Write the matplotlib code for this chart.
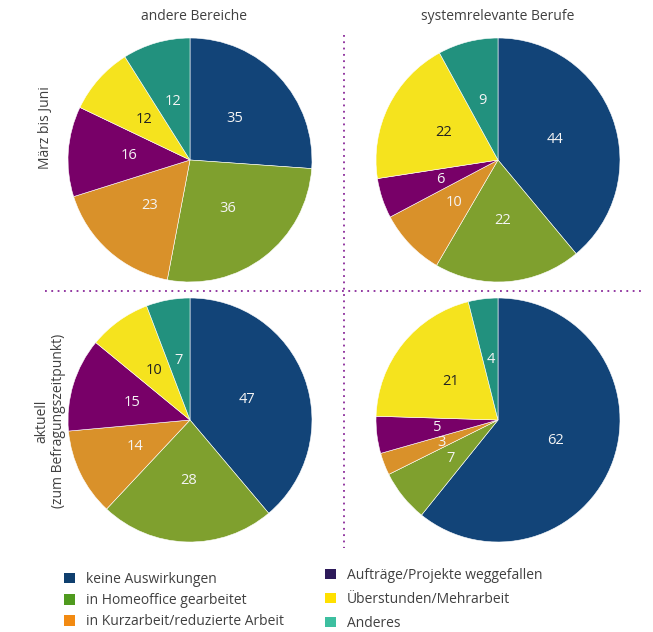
import matplotlib.pyplot as plt
from matplotlib.patches import Patch
from matplotlib.lines import Line2D

plt.rcParams['font.family'] = ['Open Sans', 'DejaVu Sans']

kategorien = ["keine Auswirkungen", "in Homeoffice gearbeitet",
              "in Kurzarbeit/reduzierte Arbeit", "Aufträge/Projekte weggefallen",
              "Überstunden/Mehrarbeit", "Anderes"]
spalten = ["andere Bereiche", "systemrelevante Berufe"]
zeilen = ["März bis Juni", "aktuell\n(zum Befragungszeitpunkt)"]

andere_maerz = [35, 36, 23, 16, 12, 12]
system_maerz = [44, 22, 10, 6, 22, 9]
andere_aktuell = [47, 28, 14, 15, 10, 7]
system_aktuell = [62, 7, 3, 5, 21, 4]

farben_pie = ["#124478", "#7fa02e", "#d9912a", "#780068", "#f5e31e", "#22917e"]
farben_leg = ["#0f3f6e", "#4f9a1e", "#f28a12", "#2d1a5a", "#ffe000", "#3dbfa0"]
textfarben = ["#f4f4f4", "#f4f4f4", "#f4f4f4", "#f4f4f4", "#222222", "#f4f4f4"]

W, H = 653, 632
fig = plt.figure(figsize=(W / 100, H / 100), dpi=100)

r = 122
zentren = [(190, 160), (498, 160), (190, 420), (498, 420)]
daten = [andere_maerz, system_maerz, andere_aktuell, system_aktuell]

for (cx, cy), werte in zip(zentren, daten):
    ax = fig.add_axes([(cx - r) / W, (H - cy - r) / H, 2 * r / W, 2 * r / H])
    wedges, texts = ax.pie(werte, colors=farben_pie, startangle=90, counterclock=False,
                           labels=[str(v) for v in werte], labeldistance=0.5,
                           wedgeprops=dict(edgecolor="white", linewidth=0.4),
                           textprops=dict(fontsize=10.5, ha="center", va="center"))
    for t, c in zip(texts, textfarben):
        t.set_color(c)
        t.set_horizontalalignment("center")
    ax.set_xlim(-1.0, 1.0)
    ax.set_ylim(-1.0, 1.0)
    ax.set_aspect("equal")
    ax.axis("off")

# Spaltentitel
fig.text(194 / W, 1 - 17 / H, spalten[0], ha="center", va="center", fontsize=10, color="#404040")
fig.text(498 / W, 1 - 17 / H, spalten[1], ha="center", va="center", fontsize=10, color="#404040")
# Zeilentitel
fig.text(45 / W, 1 - 128 / H, zeilen[0], ha="center", va="center", rotation=90, fontsize=10, color="#404040")
fig.text(50 / W, 1 - 421 / H, zeilen[1], ha="center", va="center", rotation=90, fontsize=10,
         color="#404040", multialignment="center")

# gepunktete Trennlinien
fig.add_artist(Line2D([344 / W, 344 / W], [1 - 35 / H, 1 - 548 / H], color="#8a2a9a",
                      linestyle=(0, (1, 2.5)), linewidth=1.3))
fig.add_artist(Line2D([45 / W, 645 / W], [1 - 291 / H, 1 - 291 / H], color="#8a2a9a",
                      linestyle=(0, (1, 2.5)), linewidth=1.3))

# Legende
h1 = [Patch(facecolor=farben_leg[i], edgecolor="none") for i in range(3)]
h2 = [Patch(facecolor=farben_leg[i], edgecolor="none") for i in range(3, 6)]
leg1 = fig.legend(h1, kategorien[:3], loc="upper left", bbox_to_anchor=(57 / W, 1 - 565 / H),
                  frameon=False, fontsize=10, handlelength=0.8, handleheight=0.8,
                  handletextpad=0.8, labelspacing=0.45, borderpad=0)
leg2 = fig.legend(h2, kategorien[3:], loc="upper left", bbox_to_anchor=(318 / W, 1 - 561 / H),
                  frameon=False, fontsize=10, handlelength=0.8, handleheight=0.8,
                  handletextpad=0.8, labelspacing=0.65, borderpad=0)
for leg in (leg1, leg2):
    for t in leg.get_texts():
        t.set_color("#404040")

fig.savefig("out.png", dpi=100)
